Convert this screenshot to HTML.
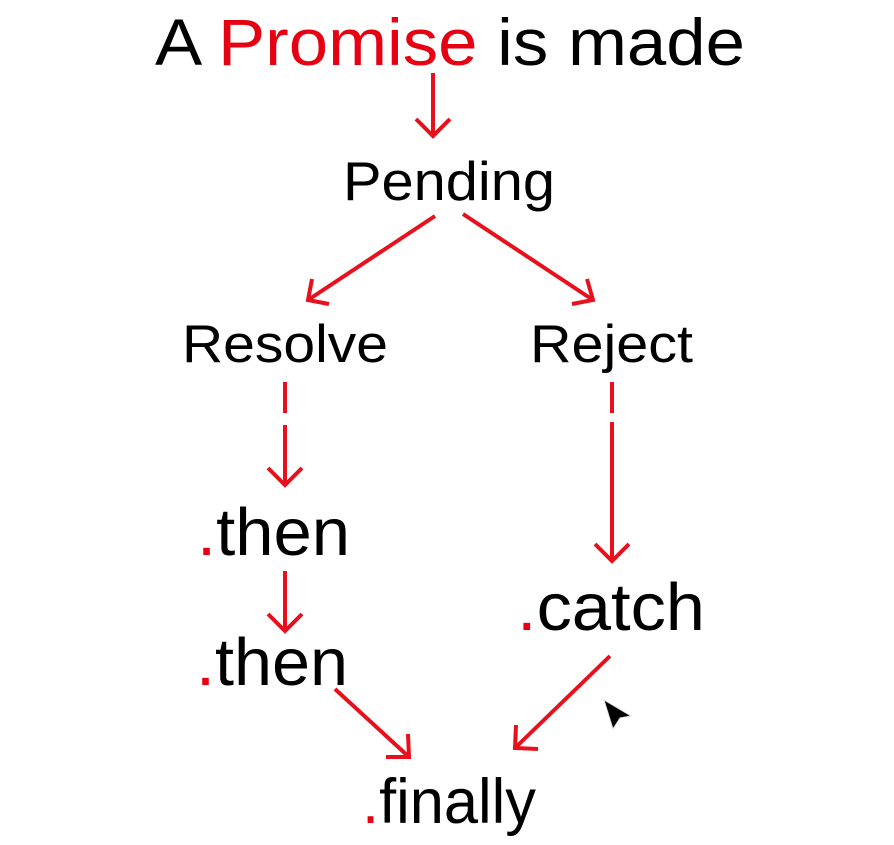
<!DOCTYPE html>
<html><head><meta charset="utf-8"><style>
html,body{margin:0;padding:0;background:#fff;width:894px;height:845px;overflow:hidden}
text{font-family:"Liberation Sans",sans-serif;fill:#000}
.r{fill:#e60012}
</style></head><body>
<svg width="894" height="845" viewBox="0 0 894 845" xmlns="http://www.w3.org/2000/svg">
<g fill="none" stroke="#e8101c" stroke-width="4" stroke-linecap="butt">
 <line x1="433" y1="73" x2="433" y2="136"/>
 <polyline points="416,119 433,136 450,119"/>
 <line x1="435" y1="216" x2="308" y2="300"/>
 <polyline points="312,279 308,300 329,304"/>
 <line x1="463" y1="214" x2="593" y2="300"/>
 <polyline points="587,279 593,300 572,304"/>
 <line x1="285" y1="382" x2="285" y2="413"/>
 <line x1="285" y1="425" x2="285" y2="485"/>
 <polyline points="268,468 285,485 302,468"/>
 <line x1="612" y1="382" x2="612" y2="413"/>
 <line x1="612" y1="422" x2="612" y2="561"/>
 <polyline points="595,544 612,561 629,544"/>
 <line x1="285" y1="571" x2="285" y2="631"/>
 <polyline points="268,614 285,631 302,614"/>
 <line x1="335" y1="689" x2="409" y2="757"/>
 <polyline points="408,734 409,757 386,757"/>
 <line x1="610" y1="656" x2="515" y2="748"/>
 <polyline points="516,725 515,748 538,749"/>
</g>
<text x="155" y="65" font-size="66" textLength="590" lengthAdjust="spacingAndGlyphs">A <tspan class="r">Promise</tspan> is made</text>
<text x="343" y="200" font-size="55" textLength="212" lengthAdjust="spacingAndGlyphs">Pending</text>
<text x="182" y="362" font-size="53" textLength="206" lengthAdjust="spacingAndGlyphs">Resolve</text>
<text x="530" y="362" font-size="53" textLength="163" lengthAdjust="spacingAndGlyphs">Reject</text>
<text x="197" y="555" font-size="67" textLength="153" lengthAdjust="spacingAndGlyphs"><tspan class="r">.</tspan>then</text>
<text x="196" y="685" font-size="67" textLength="152" lengthAdjust="spacingAndGlyphs"><tspan class="r">.</tspan>then</text>
<text x="517" y="630" font-size="67" textLength="188" lengthAdjust="spacingAndGlyphs"><tspan class="r">.</tspan>catch</text>
<text x="362" y="823" font-size="63" textLength="174" lengthAdjust="spacingAndGlyphs"><tspan class="r">.</tspan>finally</text>
<polygon points="604,700 631,716 620,718 613,729" fill="#000" stroke="#ddd" stroke-width="1"/>
</svg>
</body></html>
